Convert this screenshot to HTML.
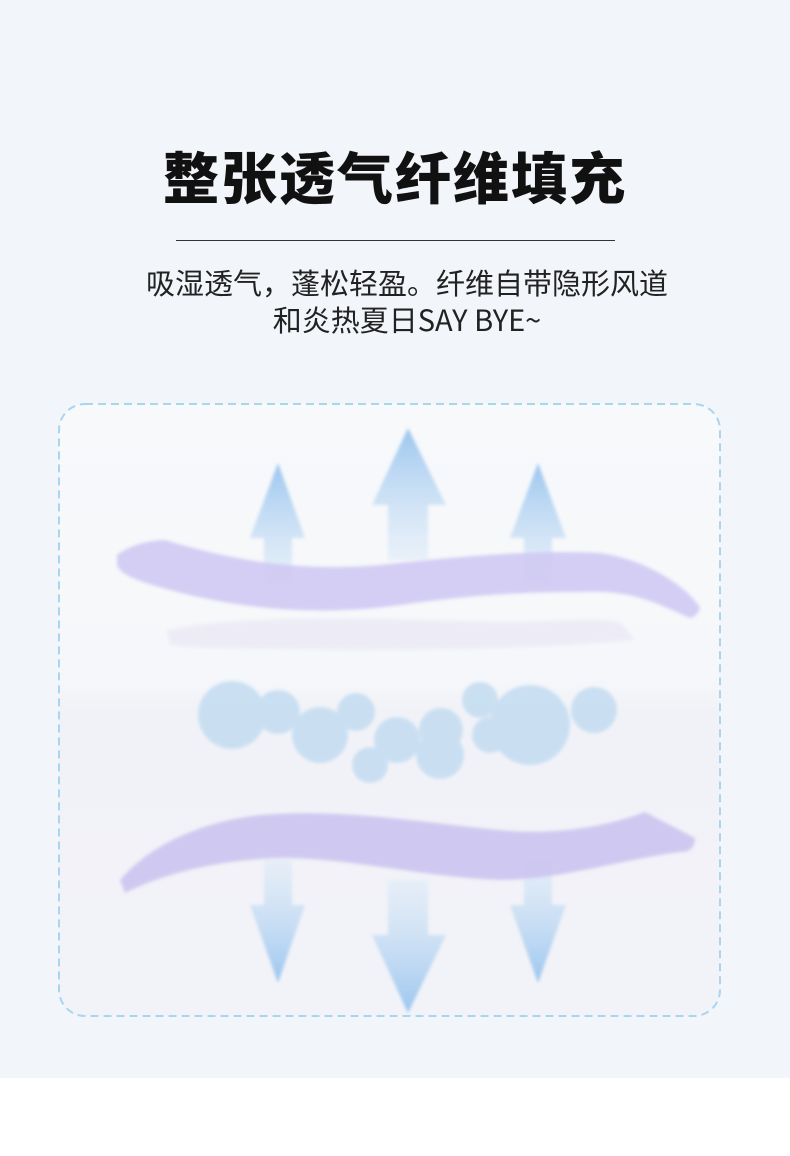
<!DOCTYPE html>
<html><head><meta charset="utf-8"><style>
body{margin:0;width:790px;height:1156px;background:#fff;font-family:"Liberation Sans","Noto Sans CJK SC",sans-serif;}
.bg{position:absolute;left:0;top:0;width:790px;height:1078px;background:#f2f5f9;}
h1{position:absolute;left:0;width:790px;top:140px;margin:0;text-align:center;font-size:56px;font-weight:900;color:#111;letter-spacing:2px;line-height:80px;}
.line{position:absolute;left:176px;top:240px;width:439px;height:1px;background:#333;}
.sub{position:absolute;left:12px;width:790px;top:264px;text-align:center;font-size:29px;color:#222;line-height:37px;font-family:"Noto Sans CJK SC","Liberation Sans",sans-serif;}
</style></head><body>
<div class="bg"></div>
<h1>整张透气纤维填充</h1>
<div class="line"></div>
<div class="sub">吸湿透气，蓬松轻盈。纤维自带隐形风道<br>和炎热夏日SAY BYE~</div>
<svg style="position:absolute;left:0;top:0" width="790" height="1156">
<defs>
<linearGradient id="up" x1="0" y1="0" x2="0" y2="1"><stop offset="0" stop-color="#9cc6ef"/><stop offset="1" stop-color="#dbe9f7" stop-opacity="0.5"/></linearGradient>
<linearGradient id="dn" x1="0" y1="1" x2="0" y2="0"><stop offset="0" stop-color="#9cc6ef"/><stop offset="1" stop-color="#dbe9f7" stop-opacity="0.5"/></linearGradient>
<linearGradient id="inner" x1="0" y1="0" x2="0" y2="1"><stop offset="0" stop-color="#f7f9fb"/><stop offset="0.45" stop-color="#f5f7fa"/><stop offset="0.5" stop-color="#f1f2f7"/><stop offset="1" stop-color="#f2f3f8"/></linearGradient>
<filter id="bl"><feGaussianBlur stdDeviation="1.5"/></filter>
</defs>
<rect x="59" y="404" width="661" height="612" rx="26" fill="url(#inner)" stroke="#a9d5ef" stroke-width="2" stroke-dasharray="8,5"/>
<g fill="url(#up)" filter="url(#bl)">
<path d="M278 463 L305 538 L292 538 L292 585 L264 585 L264 538 L250 538Z"/>
<path d="M408 428 L446 505 L428 505 L428 560 L388 560 L388 505 L372 505Z"/>
<path d="M538 463 L566 538 L552 538 L552 585 L524 585 L524 538 L510 538Z"/>
</g>
<g fill="url(#dn)" filter="url(#bl)">
<path d="M278 983 L305 905 L292 905 L292 860 L264 860 L264 905 L250 905Z"/>
<path d="M408 1013 L446 935 L428 935 L428 880 L388 880 L388 935 L372 935Z"/>
<path d="M538 983 L566 905 L552 905 L552 860 L524 860 L524 905 L510 905Z"/>
</g>
<path d="M167 630 C250 612 400 620 510 622 C570 620 600 618 620 622 L635 640 C560 648 450 650 350 650 C260 648 200 650 170 645Z" fill="#eceaf6" opacity="0.8" filter="url(#bl)"/>
<path d="M117 555 C130 545 150 540 165 540 C230 560 300 572 380 565 C470 555 540 550 600 553 C650 560 690 590 700 608 C698 615 692 618 690 618 C650 600 630 590 580 592 C500 592 450 598 400 605 C330 615 250 612 170 590 C140 582 120 575 117 565Z" fill="#cfc7f3" opacity="0.85" filter="url(#bl)"/>
<path d="M120 880 C150 845 200 822 260 815 C340 808 420 822 500 830 C560 836 610 825 645 812 L695 838 C695 848 690 852 680 852 C620 860 560 880 500 880 C430 878 360 860 290 858 C220 858 160 875 125 893Z" fill="#cac2f0" opacity="0.85" filter="url(#bl)"/>
<g fill="#c3dcf1" opacity="0.85" filter="url(#bl)">
<circle cx="232" cy="715" r="34"/><circle cx="278" cy="712" r="22"/><circle cx="320" cy="735" r="28"/>
<circle cx="356" cy="712" r="19"/><circle cx="397" cy="740" r="23"/><circle cx="370" cy="765" r="18"/>
<circle cx="441" cy="730" r="22"/><circle cx="440" cy="755" r="24"/><circle cx="480" cy="700" r="18"/>
<circle cx="530" cy="725" r="40"/><circle cx="594" cy="710" r="23"/><circle cx="490" cy="735" r="18"/>
</g>
</svg>
</body></html>
